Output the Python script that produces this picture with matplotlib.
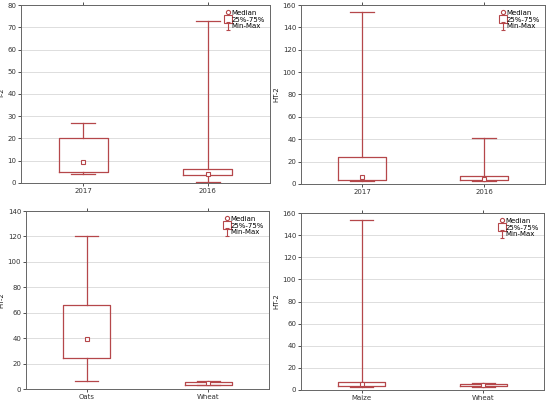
import matplotlib
matplotlib.use("Agg")
import matplotlib.pyplot as plt
from matplotlib.lines import Line2D
from matplotlib.path import Path

# ---- data ----
labels_a = ["2017", "2016"]
t2_min = [4.2, 0.5]
t2_q1 = [5.0, 3.5]
t2_med = [9.3, 4.0]
t2_q3 = [20.0, 6.5]
t2_max = [27.0, 73.0]

ht2y_min = [3.0, 3.0]
ht2y_q1 = [4.0, 4.0]
ht2y_med = [6.0, 4.5]
ht2y_q3 = [24.0, 7.5]
ht2y_max = [154.0, 41.0]

labels_c = ["Oats", "Wheat"]
ht2c_min = [6.0, 3.0]
ht2c_q1 = [24.5, 3.5]
ht2c_med = [39.0, 4.5]
ht2c_q3 = [66.0, 5.5]
ht2c_max = [120.0, 6.5]

labels_d = ["Maize", "Wheat"]
ht2d_min = [3.0, 3.0]
ht2d_q1 = [4.0, 4.0]
ht2d_med = [5.5, 4.5]
ht2d_q3 = [7.5, 5.5]
ht2d_max = [154.0, 6.5]

RED = "#b5474a"
FS = 5

fig = plt.figure(figsize=(5.5, 4.03), dpi=100)
W, H = 550, 403

def make_ax(l, r, t, b):
    return fig.add_axes([l / W, 1 - b / H, (r - l) / W, (b - t) / H])

panels = [
    (make_ax(21, 270, 5, 183), 5, labels_a, t2_min, t2_q1, t2_med, t2_q3, t2_max, "T-2", 80, 10),
    (make_ax(301, 545, 5, 184), 279, labels_a, ht2y_min, ht2y_q1, ht2y_med, ht2y_q3, ht2y_max, "HT-2", 160, 20),
    (make_ax(26, 269, 211, 389), 4.5, labels_c, ht2c_min, ht2c_q1, ht2c_med, ht2c_q3, ht2c_max, "HT-2", 140, 20),
    (make_ax(301, 544, 213, 390), 279, labels_d, ht2d_min, ht2d_q1, ht2d_med, ht2d_q3, ht2d_max, "HT-2", 160, 20),
]

minmax_marker = Path(
    [(-0.5, -1), (0.5, -1), (0, -1), (0, 1), (-0.5, 1), (0.5, 1)],
    [Path.MOVETO, Path.LINETO, Path.MOVETO, Path.LINETO, Path.MOVETO, Path.LINETO],
)

for ax, ylx, labs, mn, q1, med, q3, mx, ylab, ytop, ystep in panels:
    stats = []
    for i in range(len(labs)):
        stats.append(dict(label=labs[i], whislo=mn[i], q1=q1[i], med=med[i],
                          q3=q3[i], whishi=mx[i], fliers=[]))
    pos = list(range(len(labs)))
    ax.bxp(stats, positions=pos, widths=0.39, capwidths=0.19, showfliers=False,
           boxprops=dict(color=RED, lw=0.9),
           whiskerprops=dict(color=RED, lw=0.9),
           capprops=dict(color=RED, lw=0.9),
           medianprops=dict(linestyle="none"),
           zorder=3)
    ax.plot(pos, med, ls="none", marker="s", ms=3, mfc="white", mec=RED, mew=0.8, zorder=4)
    ax.set_xlim(-0.5, 1.5)
    ax.set_ylim(0, ytop)
    ax.set_yticks(range(0, ytop + 1, ystep))
    ax.set_xticks(pos)
    ax.set_xticklabels(labs)
    ax.yaxis.grid(True, color="#dddddd", lw=0.7, zorder=0)
    ax.set_axisbelow(True)
    ax.tick_params(labelsize=FS, length=2, width=0.6, colors="#333333", pad=1.5, top=True)
    ax.set_ylabel(ylab, fontsize=FS, color="#222222")
    bb = ax.get_position()
    axl = bb.x0 * W
    axw = bb.width * W
    ax.yaxis.set_label_coords((ylx - axl) / axw, 0.5)
    for s in ax.spines.values():
        s.set_color("#666666")
        s.set_linewidth(0.7)
    handles = [
        Line2D([], [], ls="none", marker="o", ms=3, mfc="white", mec=RED, mew=0.8),
        Line2D([], [], ls="none", marker="s", ms=6, mfc="white", mec=RED, mew=0.8),
        Line2D([], [], ls="none", marker=minmax_marker, ms=6, mfc="none", mec=RED, mew=0.8),
    ]
    ax.legend(handles, ["Median", "25%-75%", "Min-Max"], loc="upper right",
              fontsize=FS, frameon=False, handlelength=0.6, handletextpad=0.3,
              borderaxespad=0.3, labelspacing=0.1)

fig.savefig("out.png", dpi=100)
